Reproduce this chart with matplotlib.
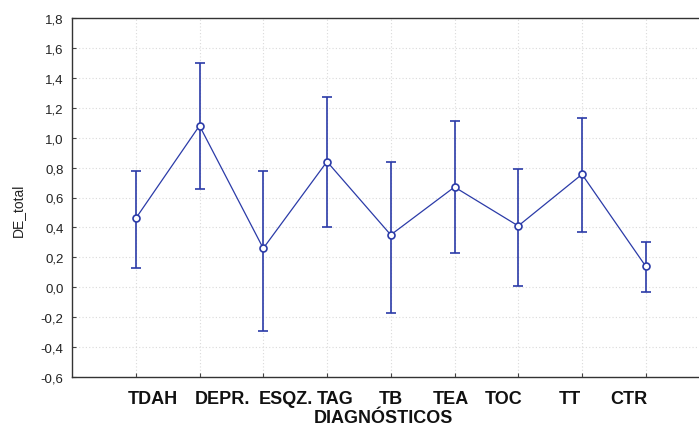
import matplotlib.pyplot as plt
import matplotlib.transforms as mtransforms
from matplotlib.ticker import FuncFormatter

# Média e limites do intervalo por diagnóstico
diagnosticos = ["TDAH", "DEPR.", "ESQZ.", "TAG", "TB", "TEA", "TOC", "TT", "CTR"]
media = [0.46, 1.08, 0.26, 0.84, 0.35, 0.67, 0.41, 0.755, 0.14]
limite_sup = [0.78, 1.50, 0.78, 1.27, 0.84, 1.11, 0.79, 1.13, 0.305]
limite_inf = [0.13, 0.66, -0.29, 0.40, -0.17, 0.23, 0.01, 0.37, -0.03]
y_ticks = [-0.6, -0.4, -0.2, 0.0, 0.2, 0.4, 0.6, 0.8, 1.0, 1.2, 1.4, 1.6, 1.8]

# deslocamento horizontal dos rótulos (px), como no original
label_shift_px = [17, 23, 23, 8, 0, -4, -15, -12, -17]

azul = "#2b3ba8"
x = list(range(1, len(diagnosticos) + 1))
err_inf = [m - l for m, l in zip(media, limite_inf)]
err_sup = [u - m for m, u in zip(media, limite_sup)]

fig = plt.figure(figsize=(6.99, 4.27), dpi=100)
ax = fig.add_axes([72 / 699, 49 / 427, 637.5 / 699, 359 / 427])

ax.errorbar(x, media, yerr=[err_inf, err_sup], fmt="none", ecolor=azul,
            elinewidth=1.2, capsize=3.5, capthick=1.2, zorder=3)
ax.plot(x, media, color=azul, linewidth=0.9, marker="o", markersize=5,
        markerfacecolor="white", markeredgecolor=azul, markeredgewidth=1.2,
        zorder=4)

ax.set_xlim(0, 10)
ax.set_ylim(-0.6, 1.8)
ax.set_yticks(y_ticks)
ax.yaxis.set_major_formatter(FuncFormatter(lambda v, p: f"{v:.1f}".replace(".", ",")))
ax.set_xticks(x)
ax.set_xticklabels([])

# rótulos do eixo x desenhados à mão para manter o deslocamento
base = ax.get_xaxis_transform()
for xi, nome, dx in zip(x, diagnosticos, label_shift_px):
    tr = base + mtransforms.ScaledTranslation(dx / 100, -13 / 100, fig.dpi_scale_trans)
    ax.text(xi, 0, nome, transform=tr, ha="center", va="top", fontsize=13,
            fontweight="bold", family="Liberation Sans", color="#111111",
            clip_on=False)

ax.tick_params(axis="both", direction="in", length=3, width=0.8, color="#444444")
ax.tick_params(axis="y", pad=6, labelsize=9.5)
for lab in ax.get_yticklabels():
    lab.set_fontfamily("Liberation Sans")
    lab.set_color("#222222")

for s in ax.spines.values():
    s.set_color("#333333")
    s.set_linewidth(1.0)

ax.grid(True, linestyle=(0, (1, 2)), color="#dadada", linewidth=0.8)
ax.set_axisbelow(True)

fig.text(18 / 699, 1 - 210 / 427, "DE_total", rotation=90, ha="center",
         va="center", fontsize=10, fontfamily="Liberation Sans", color="#222222")
fig.text(383 / 699, 1 - 419 / 427, "DIAGNÓSTICOS", ha="center", va="center",
         fontsize=13, fontweight="bold", family="Liberation Sans", color="#111111")

fig.savefig("out.png", dpi=100)
